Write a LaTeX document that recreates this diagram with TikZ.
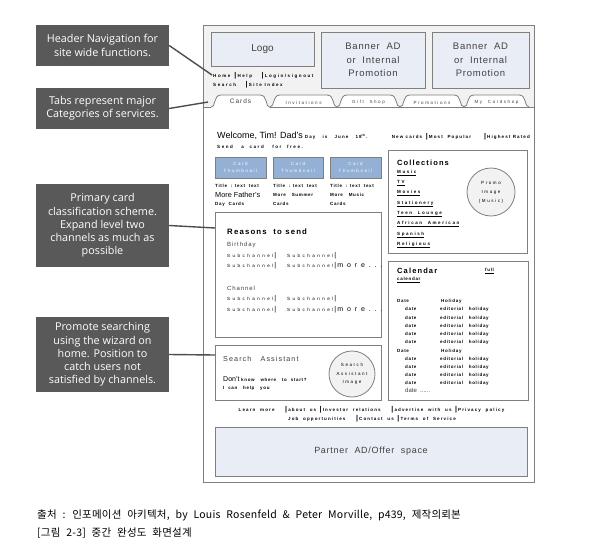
\documentclass[tikz,border=0pt]{standalone}
\usepackage{fontspec}
\setmainfont{Liberation Sans}
\newfontfamily\annfont{Open Sans}
\newfontfamily\kofont[WordSpace=2.3,LetterSpace=2]{Noto Sans CJK KR}
\newfontfamily\lsd[LetterSpace=8]{Liberation Sans}
\newfontfamily\lsa[LetterSpace=15]{Liberation Sans}
\newfontfamily\lse[LetterSpace=25]{Liberation Sans}
\newfontfamily\lsb[LetterSpace=35]{Liberation Sans}
\newfontfamily\lsc[LetterSpace=55]{Liberation Sans}
\newcommand\fsz[1]{\fontsize{#1}{#1}\selectfont}
\newcommand\vb{{\fsz{7}\bfseries\,|\,}}
\newcommand\vbl{{\fsz{7}\,|\,}}
\definecolor{bordergray}{HTML}{7F7F7F}
\definecolor{boxfill}{HTML}{E9EEF6}
\definecolor{thumbfill}{HTML}{95B0D5}
\definecolor{anngray}{HTML}{595959}
\definecolor{headfill}{HTML}{F2F2F2}
\definecolor{textgray}{HTML}{404040}
\definecolor{linkgray}{HTML}{4D4D4D}
\tikzset{
  wfbox/.style={draw=bordergray, line width=0.9pt, fill=boxfill, inner sep=0, text=textgray, align=center},
  panel/.style={draw=bordergray, line width=0.9pt, fill=white, inner sep=0},
  thumb/.style={draw=bordergray, line width=0.9pt, fill=thumbfill, text=white, inner sep=0, align=center, font={\lsb\fsz{4.5}}},
  ann/.style={fill=anngray, text=white, inner sep=0, align=center, minimum width=133, font={\annfont\fontsize{10.8}{13.2}\selectfont}},
  lbl/.style={inner sep=0, anchor=west, text=black},
  small/.style={lbl, font={\lsa\bfseries\fsz{4.5}}},
  wide/.style={lbl, font={\lsb\bfseries\fsz{4.5}}},
  spaced/.style={lbl, font={\lsc\fsz{4.5}}},
  tabshape/.style={draw=bordergray, line width=0.8pt, fill=white},
  tablbl/.style={inner sep=0, font={\lsb\fsz{4.5}}, text=textgray},
  circ/.style={draw=bordergray, line width=0.8pt, fill=headfill, circle, inner sep=0, align=center, font={\lsb\fsz{4.5}}},
  link/.style={draw=linkgray, line width=1.4pt},
  frame/.style={draw=bordergray, line width=0.9pt}
}
\begin{document}
\begin{tikzpicture}[x=1pt,y=-1pt]
\useasboundingbox (0,0) rectangle (593,559);
% page header background
\fill[headfill] (203,25) rectangle (534,107);
% tabs
\foreach \a/\b in {464/529,400/464,337/400,270/337}{
  \draw[tabshape] (\a,107) .. controls (\a+5,107) and (\a+2,95) .. (\a+10,95) -- (\b-10,95) .. controls (\b-2,95) and (\b-5,107) .. (\b,107);
}
\draw[frame] (203,107) -- (211,107) (270,107) -- (534,107);
\draw[tabshape] (211,107.4) .. controls (216,107.4) and (213,95) .. (221,95) -- (260,95) .. controls (268,95) and (265,107.4) .. (270,107.4);
\fill[white] (211.6,106.5) rectangle (269.4,109);
\node[tablbl, font={\lsa\fsz{6.5}}] (tcards) at (240.5,101.5) {Cards};
\node[tablbl] (tinv) at (303.5,102.5) {Invitations};
\node[tablbl] (tgift) at (368.5,102.5) {Gift~ Shop};
\node[tablbl] (tpromo) at (432,102.5) {Promotions};
\node[tablbl] (tmy) at (496.5,102.5) {My~ Cardshop};
% page frame
\node[frame, minimum width=331, minimum height=457, inner sep=0] (page) at (368.5,253.5) {};
% header boxes
\node[wfbox, minimum width=103, minimum height=34, font={\fsz{10}}] (logo) at (262.5,49) {Logo};
\node[wfbox, minimum width=104, minimum height=56, font={\lsd\fontsize{9.5}{13.5}\selectfont}] (ban1) at (373,60) {Banner~ AD\\or~ Internal\\Promotion};
\node[wfbox, minimum width=97, minimum height=56, font={\lsd\fontsize{9.5}{13.5}\selectfont}] (ban2) at (480.5,60) {Banner~ AD\\or~ Internal\\Promotion};
\node[wide] (nav1) at (213,76) {Home \vb Help~~ \vb Login/signout};
\node[wide] (nav2) at (213,85) {Search~~ \vb Site Index};
% welcome line
\node[lbl] (welcome) at (217,136) {{\fsz{9}Welcome, Tim! Dad's}\hspace{2pt}{\lse\bfseries\fsz{4.5}Day~~ is~~ June~~ 18\textsuperscript{th}.}};
\node[inner sep=0, anchor=east, font={\lse\bfseries\fsz{4.5}}] (quick) at (530,137) {New cards \vb Most~ Popular~~~~ \vb Highest Rated};
\node[wide] (free) at (217,147) {Send~~ a~ card~~ for~ free.};
% thumbnails
\node[thumb, minimum width=51, minimum height=21] (th1) at (240.5,167.5) {Card\\[3pt]Thumbnail};
\node[thumb, minimum width=50, minimum height=21] (th2) at (298,167.5) {Card\\[3pt]Thumbnail};
\node[thumb, minimum width=51, minimum height=21] (th3) at (355.5,167.5) {Card\\[3pt]Thumbnail};
\node[small] (c1a) at (215,186) {Title~ : text~ text};
\node[lbl, font={\fsz{7.3}}] (c1b) at (215,195) {More Father's};
\node[small] (c1c) at (215,204) {Day~ Cards};
\node[small] (c2a) at (273,186) {Title~ : text~ text};
\node[small] (c2b) at (273,195) {More~~ Summer};
\node[small] (c2c) at (273,204) {Cards};
\node[small] (c3a) at (330,186) {Title~ : text~ text};
\node[small] (c3b) at (330,195) {More~~ Music};
\node[small] (c3c) at (330,204) {Cards};
% reasons box
\node[panel, minimum width=166, minimum height=125] (reasons) at (298,274.5) {};
\node[lbl, font={\lsa\bfseries\fsz{7.8}}] (rtitle) at (227,232) {Reasons~ to send};
\node[lbl, font={\lsa\fsz{6}}, text=textgray] (bday) at (227,245) {Birthday};
\node[spaced] (s1) at (227,256) {Subchannel\vbl};
\node[spaced] (s2) at (287,256) {Subchannel\vbl};
\node[spaced] (s3) at (227,266) {Subchannel\vbl};
\node[spaced] (s4) at (287,266) {Subchannel\vbl{\fsz{7}more...}};
\node[lbl, font={\lsa\fsz{6}}, text=textgray] (chan) at (227,288) {Channel};
\node[spaced] (s5) at (227,299) {Subchannel\vbl};
\node[spaced] (s6) at (287,299) {Subchannel\vbl};
\node[spaced] (s7) at (227,310) {Subchannel\vbl};
\node[spaced] (s8) at (287,310) {Subchannel\vbl{\fsz{7}more...}};
% collections box
\node[panel, minimum width=139, minimum height=103] (coll) at (457.5,201.5) {};
\node[lbl, font={\lsa\bfseries\fsz{7.5}}] (ctitle) at (397,163) {Collections};
\node[wide] (l1) at (397,173) {\underline{Music}};
\node[wide] (l2) at (397,183) {\underline{TV}};
\node[wide] (l3) at (397,193) {\underline{Movies}};
\node[wide] (l4) at (397,204) {\underline{Stationery}};
\node[wide] (l5) at (397,214) {\underline{Teen~ Lounge}};
\node[wide] (l6) at (397,224) {\underline{African~ American}};
\node[wide] (l7) at (397,235) {\underline{Spanish}};
\node[wide] (l8) at (397,245) {\underline{Religious}};
\node[circ, minimum size=48] (promo) at (491,192) {Promo\\[4.5pt]Image\\[4.5pt](Music)};
% calendar box
\node[panel, minimum width=140, minimum height=139] (cal) at (458,330.5) {};
\node[lbl, font={\lsa\bfseries\fsz{7.5}}] (caltitle) at (397,271) {Calendar};
\node[small] (full) at (485,271) {\underline{full}};
\node[small] (calend) at (397,280) {\underline{calendar}};
\node[small] (d1) at (397,301) {Date};
\node[small] (h1) at (441,301) {Holiday};
\foreach \yy [count=\i] in {309,318,326,334,342}{
  \node[small] (da\i) at (405,\yy) {date};
  \node[small] (ea\i) at (440,\yy) {editorial~~ holiday};
}
\node[small] (d2) at (397,351) {Date};
\node[small] (h2) at (441,351) {Holiday};
\foreach \yy [count=\i] in {359,367,375,383}{
  \node[small] (db\i) at (405,\yy) {date};
  \node[small] (eb\i) at (440,\yy) {editorial~~ holiday};
}
\node[lbl, font={\fsz{6}}, text=textgray] (dlast) at (405,390) {date~ ......};
% search assistant
\node[panel, minimum width=166, minimum height=55] (search) at (298,372.5) {};
\node[lbl, font={\lsa\fsz{7.2}}, text=textgray] (stitle) at (223,359) {Search~~ Assistant};
\node[lbl] (dont) at (223,379) {{\fsz{7}Don't}\,{\lsa\bfseries\fsz{4.5}know~~ where~~ to~ start?}};
\node[small] (help) at (223,388) {I~ can~~ help~~ you};
\node[circ, minimum size=46] (scirc) at (352,374) {Search\\[4pt]Assistant\\[4pt]Image};
% footer links
\node[inner sep=0, font={\lse\bfseries\fsz{4.5}}] (foot1) at (371.5,410) {Learn~ more~~~ \vb about~ us \vb Investor~ relations~~~ \vb advertise~ with~ us \vb Privacy~ policy};
\node[inner sep=0, font={\lse\bfseries\fsz{4.5}}] (foot2) at (372,419) {Job~ opportunities~~~ \vb Contact~ us \vb Terms~ of~ Service};
% partner box
\node[wfbox, minimum width=312, minimum height=49, font={\lsd\fsz{9}}] (partner) at (371,451.5) {Partner~ AD/Offer~ space};
% annotations
\node[ann, minimum height=41] (ann1) at (102.5,45.5) {Header Navigation for\\site wide functions.};
\node[ann, minimum height=41] (ann2) at (102.5,108.5) {Tabs represent major\\Categories of services.};
\node[ann, minimum height=83] (ann3) at (102.5,225.5) {Primary card\\classification scheme.\\Expand level two\\channels as much as\\possible};
\node[ann, minimum height=75] (ann4) at (102.5,354.5) {Promote searching\\using the wizard on\\home. Position to\\catch users not\\satisfied by channels.};
\coordinate (e1) at (212,75);
\coordinate (e2) at (208,102);
\coordinate (e3) at (215,228);
\coordinate (e4) at (215,355);
\draw[link] (ann1.east) -- (e1);
\draw[link] (ann2.east) -- (e2);
\draw[link] (ann3.east) -- (e3);
\draw[link] (ann4.east) -- (e4);
% caption
\node[lbl, font={\kofont\fsz{10.5}}] (src) at (37,515) {출처 : 인포메이션 아키텍처, by Louis Rosenfeld \& Peter Morville, p439, 제작의뢰본};
\node[lbl, font={\kofont\fsz{10.5}}] (fig) at (37,533) {[그림 2-3] 중간 완성도 화면설계};
\end{tikzpicture}
\end{document}
